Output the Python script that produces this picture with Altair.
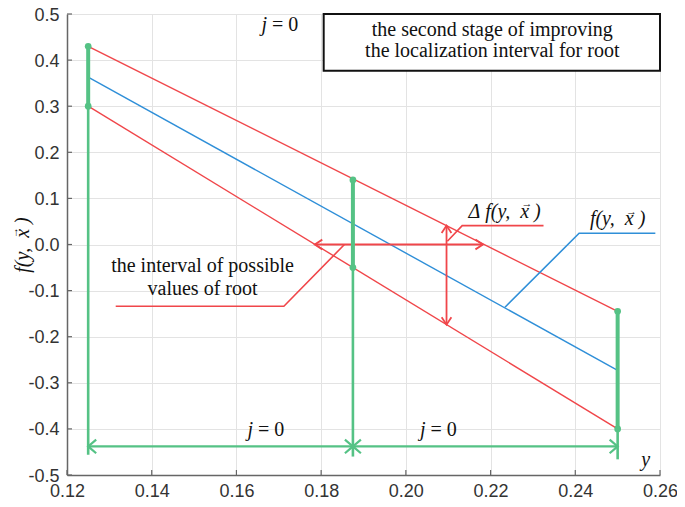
import altair as alt
import pandas as pd

# ---------------- data ----------------
X_TICKS = [0.12, 0.14, 0.16, 0.18, 0.20, 0.22, 0.24, 0.26]
Y_TICKS = [-0.5, -0.4, -0.3, -0.2, -0.1, 0.0, 0.1, 0.2, 0.3, 0.4, 0.5]

Y_NODES = [0.125, 0.1875, 0.25]
F_UPPER = [0.43, 0.14, -0.145]
F_LOWER = [0.30, -0.05, -0.40]
F_CENTER_Y = [0.125, 0.25]
F_CENTER = [0.363, -0.273]
GREEN_BOTTOM = [-0.456, -0.46, -0.466]
J_ARROW_F = -0.438

ROOT_ARROW_Y = [0.1785, 0.2182]
ROOT_ARROW_F = 0.0
DELTA_ARROW_Y = 0.2096
DELTA_ARROW_F = [0.041, -0.174]

LEAD_DELTA_Y = [0.2098, 0.2133, 0.2325]
LEAD_DELTA_F = [0.007, 0.041, 0.041]
LEAD_F_Y = [0.2234, 0.2409, 0.2589]
LEAD_F_F = [-0.136, 0.0243, 0.0243]
LEAD_ROOT_Y = [0.1855, 0.1712, 0.1315]
LEAD_ROOT_F = [0.0, -0.134, -0.134]

BOX_Y = [0.1806, 0.26]
BOX_F = [0.377, 0.5]

NB = "\u00a0"
SERIF_TEXTS = ["the second stage of improving", "the localization interval for root",
               "the interval of possible", "values of root"]
SERIF_X = [0.2204, 0.2204, 0.152, 0.152]
SERIF_F = [0.465, 0.4205, -0.0476, -0.0962]

FUNC_TEXTS = ["\u0394" + NB + "f(y," + NB + NB + "x" + NB + ")",
              "f(y," + NB + NB + "x" + NB + ")", "y"]
FUNC_X = [0.2233, 0.2500, 0.2566]
FUNC_F = [0.0700, 0.0545, -0.467]

VEC_X = [0.2286, 0.2533]          # small vector arrows over x
VEC_F = [0.0870, 0.0705]

J_TEXT_X = [0.1703, 0.167, 0.2077]  # "j = 0" labels
J_TEXT_F = [0.477, -0.403, -0.403]

Y_TITLE = "f(y," + NB + NB + "x" + NB + ")"

# ---------------- styling ----------------
RED = "#f0464a"
BLUE = "#2f8fd8"
GREEN = "#55c285"
PAD_L, PAD_T, PAD_R, PAD_B = 59, 6, 17, 24
W, H = 593, 461
SERIF = "Times New Roman, Liberation Serif, DejaVu Serif, serif"
SANS = "Liberation Sans, Arial, Helvetica, sans-serif"
INK = "#111111"

xs = alt.Scale(domain=[0.12, 0.26], nice=False, zero=False)
ys = alt.Scale(domain=[-0.5, 0.5], nice=False, zero=False)

xaxis = alt.Axis(values=X_TICKS, format=".2f", grid=True, ticks=False, tickSize=0,
                 labelPadding=7, title=None, labelFlush=False, labelOverlap=False,
                 labelFont=SANS, labelFontSize=18, labelColor="#333333",
                 domainColor="#666666", domainWidth=1.5, gridColor="#e3e3e3")
yaxis = alt.Axis(values=Y_TICKS, grid=True, ticks=False, tickSize=0, labelPadding=8,
                 labelOffset=1,
                 labelExpr="replace(format(datum.value, '.1f'), '\u2212', '-')",
                 labelFlush=False, labelOverlap=False,
                 labelFont=SANS, labelFontSize=18, labelColor="#333333",
                 domainColor="#666666", domainWidth=1.5, gridColor="#e3e3e3",
                 title=Y_TITLE, titleFont=SERIF, titleFontStyle="italic",
                 titleFontWeight="normal", titleFontSize=20, titleColor=INK,
                 titleX=-45, titleY=H / 2, titleAngle=270, titleAlign="center",
                 titleBaseline="middle")

frame = alt.Chart(pd.DataFrame({"x": [0.12, 0.26], "y": [-0.5, 0.5]})).mark_point(opacity=0).encode(
    x=alt.X("x:Q", scale=xs, axis=xaxis),
    y=alt.Y("y:Q", scale=ys, axis=yaxis),
)

# inward ticks
xt = alt.Chart(pd.DataFrame({"x": X_TICKS})).mark_rule(color="#666666", strokeWidth=1.2).encode(
    x=alt.X("x:Q", scale=xs), y=alt.value(H), y2=alt.value(H - 5))
yt = alt.Chart(pd.DataFrame({"y": Y_TICKS})).mark_rule(color="#666666", strokeWidth=1.2).encode(
    y=alt.Y("y:Q", scale=ys), x=alt.value(0), x2=alt.value(5))

# title box
box = alt.Chart(pd.DataFrame({"x": [BOX_Y[0]], "x2": [BOX_Y[1]], "y": [BOX_F[0]], "y2": [BOX_F[1]]})).mark_rect(
    fill="white", stroke=INK, strokeWidth=2).encode(
    x=alt.X("x:Q", scale=xs), x2="x2:Q", y=alt.Y("y:Q", scale=ys), y2="y2:Q")

red_df = pd.DataFrame({
    "x": [Y_NODES[0], Y_NODES[0]], "x2": [Y_NODES[2], Y_NODES[2]],
    "y": [F_UPPER[0], F_LOWER[0]], "y2": [F_UPPER[2], F_LOWER[2]]})
red_lines = alt.Chart(red_df).mark_rule(color=RED, strokeWidth=1.4).encode(
    x=alt.X("x:Q", scale=xs), x2="x2:Q", y=alt.Y("y:Q", scale=ys), y2="y2:Q")

blue_df = pd.DataFrame({"x": [F_CENTER_Y[0]], "x2": [F_CENTER_Y[1]], "y": [F_CENTER[0]], "y2": [F_CENTER[1]]})
blue_line = alt.Chart(blue_df).mark_rule(color=BLUE, strokeWidth=1.4).encode(
    x=alt.X("x:Q", scale=xs), x2="x2:Q", y=alt.Y("y:Q", scale=ys), y2="y2:Q")

g_thick = alt.Chart(pd.DataFrame({"x": Y_NODES, "y": F_UPPER, "y2": F_LOWER})).mark_rule(
    color=GREEN, strokeWidth=4).encode(x=alt.X("x:Q", scale=xs), y=alt.Y("y:Q", scale=ys), y2="y2:Q")
g_thin = alt.Chart(pd.DataFrame({"x": Y_NODES, "y": F_LOWER, "y2": GREEN_BOTTOM})).mark_rule(
    color=GREEN, strokeWidth=2.6).encode(x=alt.X("x:Q", scale=xs), y=alt.Y("y:Q", scale=ys), y2="y2:Q")
g_horiz = alt.Chart(pd.DataFrame({"x": [Y_NODES[0]], "x2": [Y_NODES[2]], "y": [J_ARROW_F]})).mark_rule(
    color=GREEN, strokeWidth=2.4).encode(x=alt.X("x:Q", scale=xs), x2="x2:Q", y=alt.Y("y:Q", scale=ys))

dots_df = pd.DataFrame({"x": Y_NODES * 2, "y": F_UPPER + F_LOWER})
g_dots = alt.Chart(dots_df).mark_circle(color=GREEN, size=45, opacity=1).encode(
    x=alt.X("x:Q", scale=xs), y=alt.Y("y:Q", scale=ys))

g_heads_df = pd.DataFrame({
    "x": [Y_NODES[0], Y_NODES[1], Y_NODES[1], Y_NODES[2]],
    "y": [J_ARROW_F] * 4,
    "angle": [180, 0, 180, 0]})
g_heads = alt.Chart(g_heads_df).mark_point(
    shape="M-1,-0.85L0,0L-1,0.85", filled=False, color=GREEN, strokeWidth=2.2, size=256, opacity=1).encode(
    x=alt.X("x:Q", scale=xs), y=alt.Y("y:Q", scale=ys), angle=alt.Angle("angle:Q", scale=None))

r_h = alt.Chart(pd.DataFrame({"x": [ROOT_ARROW_Y[0]], "x2": [ROOT_ARROW_Y[1]], "y": [ROOT_ARROW_F]})).mark_rule(
    color=RED, strokeWidth=1.8).encode(x=alt.X("x:Q", scale=xs), x2="x2:Q", y=alt.Y("y:Q", scale=ys))
r_v = alt.Chart(pd.DataFrame({"x": [DELTA_ARROW_Y], "y": [DELTA_ARROW_F[0]], "y2": [DELTA_ARROW_F[1]]})).mark_rule(
    color=RED, strokeWidth=1.8).encode(x=alt.X("x:Q", scale=xs), y=alt.Y("y:Q", scale=ys), y2="y2:Q")
r_heads_df = pd.DataFrame({
    "x": [ROOT_ARROW_Y[0], ROOT_ARROW_Y[1], DELTA_ARROW_Y, DELTA_ARROW_Y],
    "y": [ROOT_ARROW_F, ROOT_ARROW_F, DELTA_ARROW_F[0], DELTA_ARROW_F[1]],
    "angle": [180, 0, 270, 90]})
r_heads = alt.Chart(r_heads_df).mark_point(
    shape="M-1,-0.65L0,0L-1,0.65", filled=False, color=RED, strokeWidth=1.8, size=225, opacity=1).encode(
    x=alt.X("x:Q", scale=xs), y=alt.Y("y:Q", scale=ys), angle=alt.Angle("angle:Q", scale=None))

lead_df = pd.DataFrame({
    "x": LEAD_DELTA_Y + LEAD_ROOT_Y, "y": LEAD_DELTA_F + LEAD_ROOT_F,
    "id": ["d"] * 3 + ["r"] * 3, "o": [0, 1, 2] * 2})
red_leads = alt.Chart(lead_df).mark_line(color=RED, strokeWidth=1.6).encode(
    x=alt.X("x:Q", scale=xs), y=alt.Y("y:Q", scale=ys), detail="id:N", order="o:Q")
blue_lead = alt.Chart(pd.DataFrame({"x": LEAD_F_Y, "y": LEAD_F_F, "o": [0, 1, 2]})).mark_line(
    color=BLUE, strokeWidth=1.6).encode(x=alt.X("x:Q", scale=xs), y=alt.Y("y:Q", scale=ys), order="o:Q")

# texts
serif_txt = alt.Chart(pd.DataFrame({"t": SERIF_TEXTS, "x": SERIF_X, "y": SERIF_F})).mark_text(
    font=SERIF, fontSize=20, color=INK, align="center", baseline="middle").encode(
    x=alt.X("x:Q", scale=xs), y=alt.Y("y:Q", scale=ys), text="t:N")
func_txt = alt.Chart(pd.DataFrame({"t": FUNC_TEXTS, "x": FUNC_X, "y": FUNC_F})).mark_text(
    font=SERIF, fontSize=20, fontStyle="italic", color=INK, align="center", baseline="middle").encode(
    x=alt.X("x:Q", scale=xs), y=alt.Y("y:Q", scale=ys), text="t:N")
vec_txt = alt.Chart(pd.DataFrame({"t": ["\u2192"] * len(VEC_X), "x": VEC_X, "y": VEC_F})).mark_text(
    font=SERIF, fontSize=11, color=INK, align="center", baseline="middle").encode(
    x=alt.X("x:Q", scale=xs), y=alt.Y("y:Q", scale=ys), text="t:N")
jdf = pd.DataFrame({"x": J_TEXT_X, "y": J_TEXT_F})
j_ital = alt.Chart(jdf).mark_text(
    text="j", font=SERIF, fontSize=20, fontStyle="italic", color=INK, align="right", baseline="middle", dx=-13).encode(
    x=alt.X("x:Q", scale=xs), y=alt.Y("y:Q", scale=ys))
j_rest = alt.Chart(jdf).mark_text(
    text="= 0", font=SERIF, fontSize=20, color=INK, align="left", baseline="middle", dx=-8).encode(
    x=alt.X("x:Q", scale=xs), y=alt.Y("y:Q", scale=ys))
title_vec = alt.Chart(pd.DataFrame({"t": ["\u2192"]})).mark_text(
    font=SERIF, fontSize=11, color=INK, align="center", baseline="middle", angle=270).encode(
    x=alt.value(-52), y=alt.value(H / 2 - 12), text="t:N")

chart = alt.layer(
    frame, box, red_lines, blue_line, red_leads, blue_lead, r_h, r_v, r_heads,
    g_thin, g_thick, g_horiz, g_heads, g_dots, xt, yt,
    serif_txt, func_txt, vec_txt, j_ital, j_rest, title_vec
).properties(
    width=W, height=H,
    autosize=alt.AutoSizeParams(type="none"),
    padding={"left": PAD_L, "top": PAD_T, "right": PAD_R, "bottom": PAD_B},
    background="white",
).configure_view(stroke=None)

chart.save("out.html", embed_options={"renderer": "svg", "actions": False})
